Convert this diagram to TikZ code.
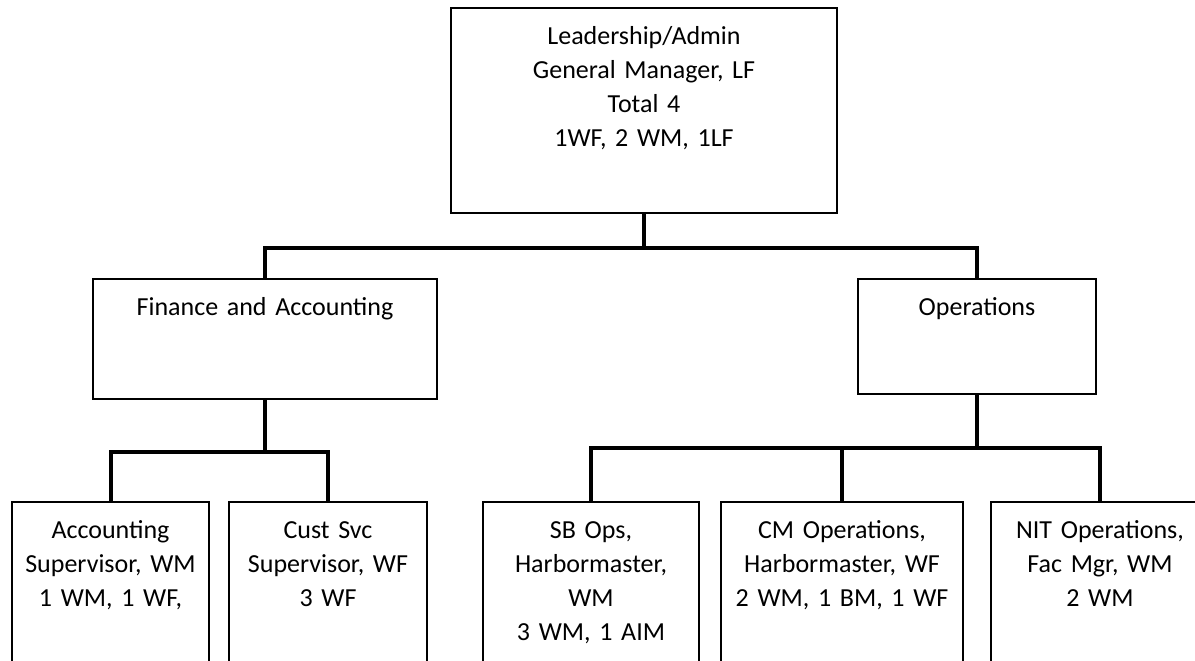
\documentclass[tikz,border=0pt]{standalone}
\usepackage{fontspec}
\setmainfont{Carlito}
\begin{document}
\begin{tikzpicture}[x=0.5pt,y=-0.5pt,
    unit/.style={shape=rectangle,draw=black,line width=0.75pt,align=center,
      anchor=north,inner xsep=2pt,inner ysep=6.5pt,text height=12pt,
      font=\fontsize{13}{17}\selectfont},
    link/.style={draw=black,line width=2pt}]
    \useasboundingbox (0,0) rectangle (1195,660);
    \clip (0,0) rectangle (1195,660);
    \node[unit,text width=189pt,text depth=77.5pt] (lead) at (644,7)
      {Leadership/Admin\\General Manager, LF\\Total 4\\1WF, 2 WM, 1LF};
    \node[unit,text width=168pt,text depth=35pt] (fin) at (265,278) {Finance and Accounting};
    \node[unit,text width=115pt,text depth=32.5pt] (ops) at (977,278) {Operations};
    \node[unit,text width=94.5pt,text depth=64.5pt] (acct) at (110.5,501)
      {Accounting\\Supervisor, WM\\1 WM, 1 WF,};
    \node[unit,text width=95pt,text depth=64.5pt] (cust) at (328,501)
      {Cust Svc\\Supervisor, WF\\3 WF};
    \node[unit,text width=104pt,text depth=64.5pt] (sb) at (591,501)
      {SB Ops,\\Harbormaster,\\WM\\3 WM, 1 AIM};
    \node[unit,text width=117pt,text depth=64.5pt] (cm) at (842,501)
      {CM Operations,\\Harbormaster, WF\\2 WM, 1 BM, 1 WF};
    \node[unit,text width=105pt,text depth=64.5pt] (nit) at (1100,501)
      {NIT Operations,\\Fac Mgr, WM\\2 WM};
    \path[link] (lead.south) -- ++(0,34) -| (fin.north);
    \path[link] (lead.south) -- ++(0,34) -| (ops.north);
    \path[link] (fin.south) -- ++(0,52) -| (acct.north);
    \path[link] (fin.south) -- ++(0,52) -| (cust.north);
    \path[link] (ops.south) -- ++(0,53) -| (sb.north);
    \path[link] (ops.south) -- ++(0,53) -| (cm.north);
    \path[link] (ops.south) -- ++(0,53) -| (nit.north);
\end{tikzpicture}
\end{document}
